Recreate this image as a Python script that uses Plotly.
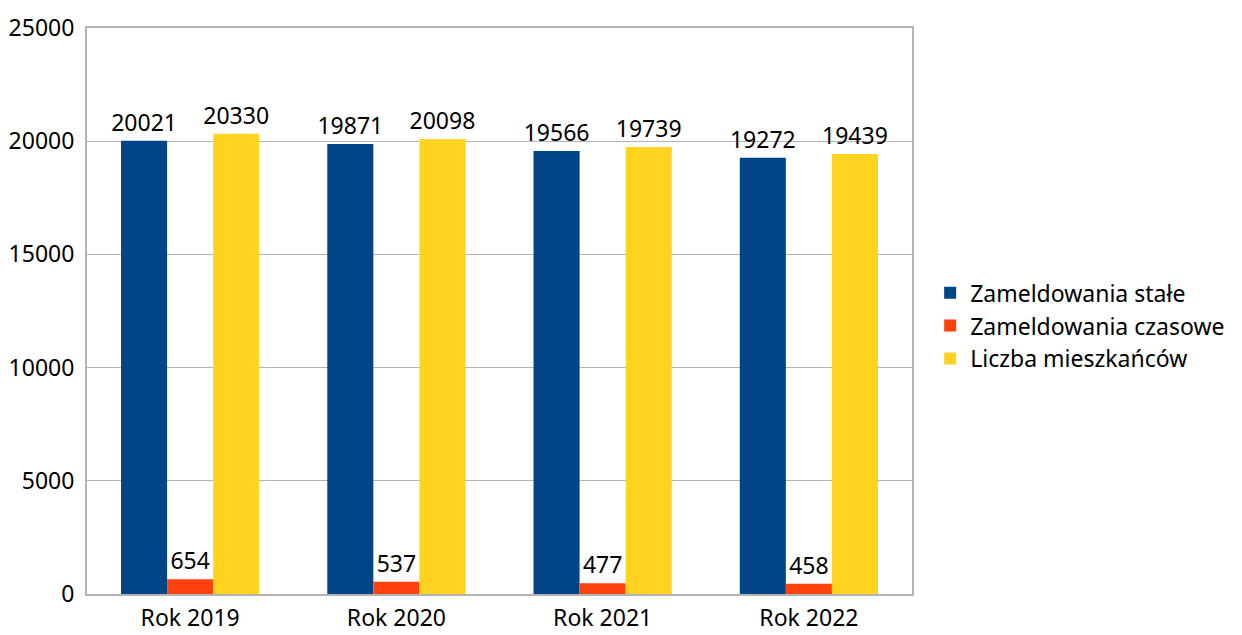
import plotly.graph_objects as go

categories = ["Rok 2019", "Rok 2020", "Rok 2021", "Rok 2022"]
stale = [20021, 19871, 19566, 19272]
czasowe = [654, 537, 477, 458]
mieszkancy = [20330, 20098, 19739, 19439]
y_ticks = [0, 5000, 10000, 15000, 20000, 25000]

series = [
    ("Zameldowania stałe", stale, "#004586"),
    ("Zameldowania czasowe", czasowe, "#ff420e"),
    ("Liczba mieszkańców", mieszkancy, "#ffd320"),
]

FONT = "Noto Sans"
SIZE = 23
fig = go.Figure()
for name, vals, col in series:
    fig.add_trace(go.Bar(
        x=categories, y=vals, name=name, marker=dict(color=col, line=dict(width=0)),
        text=[str(v) for v in vals], textposition="outside", cliponaxis=False,
        textangle=0, constraintext="none",
        textfont=dict(size=SIZE, color="#000000", family=FONT),
    ))

fig.update_layout(
    width=1242, height=635,
    margin=dict(l=79, r=338, t=20, b=49, autoexpand=False),
    paper_bgcolor="white", plot_bgcolor="white",
    barmode="group", bargap=0.33, bargroupgap=0,
    font=dict(family=FONT, size=SIZE, color="#000000"),
    uniformtext=dict(mode=False),
    legend=dict(x=1.022, y=0.474, yanchor="middle", xanchor="left",
                font=dict(size=SIZE, family=FONT), itemwidth=30, tracegroupgap=0),
    showlegend=True,
    xaxis=dict(showline=True, linecolor="#b3b3b3", linewidth=2, mirror=True,
               ticks="", tickfont=dict(size=SIZE), showgrid=False, ticklabelstandoff=2),
    yaxis=dict(range=[0, 25000], tickvals=y_ticks, ticktext=[str(v) for v in y_ticks],
               showline=True, linecolor="#b3b3b3",
               linewidth=2, mirror=True, gridcolor="#b3b3b3", gridwidth=1,
               ticks="", tickfont=dict(size=SIZE), zeroline=False, ticklabelstandoff=6),
)
fig.write_html("out.html")
